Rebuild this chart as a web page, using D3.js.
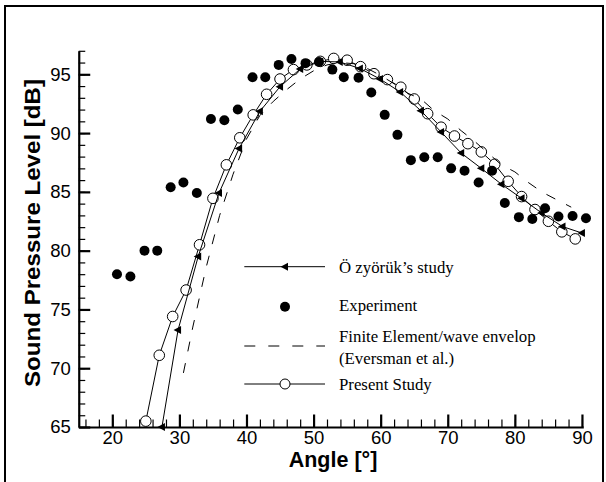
<!DOCTYPE html>
<html>
<head>
<meta charset="utf-8">
<script src="https://cdn.jsdelivr.net/npm/d3@7"></script>
<style>
  html, body { margin: 0; padding: 0; background: #fff; }
  svg { display: block; }
</style>
</head>
<body>
<svg id="chart" width="606" height="482"></svg>
<script>
// ---- data ----
const xTickLabels = [20, 30, 40, 50, 60, 70, 80, 90];
const yTickLabels = [65, 70, 75, 80, 85, 90, 95];

const expAngle = [20.7, 22.7, 24.8, 26.7, 28.7, 30.6, 32.6, 34.7, 36.7, 38.7, 40.9, 42.8, 44.8, 46.7, 48.8, 50.8, 52.8, 54.5, 56.7, 58.6, 60.6, 62.5, 64.5, 66.5, 68.5, 70.5, 72.5, 74.6, 76.6, 78.5, 80.6, 82.6, 84.5, 86.5, 88.6, 90.6];
const expDB    = [78.0, 77.8, 80.0, 80.0, 85.4, 85.8, 84.9, 91.2, 91.1, 92.0, 94.75, 94.75, 95.8, 96.3, 95.95, 96.05, 95.4, 94.75, 94.7, 93.45, 91.55, 89.85, 87.7, 87.95, 87.95, 87.0, 86.8, 85.8, 86.8, 84.05, 82.85, 82.7, 83.6, 82.9, 82.95, 82.75];

const presentAngle = [25, 27, 29, 31, 33, 35, 37, 39, 41, 43, 45, 47, 49, 51, 53, 55, 57, 59, 61, 63, 65, 67, 69, 71, 73, 75, 77, 79, 81, 83, 85, 87, 89];
const presentDB    = [65.5, 71.1, 74.4, 76.65, 80.5, 84.45, 87.3, 89.6, 91.55, 93.3, 94.6, 95.4, 95.8, 96.1, 96.35, 96.2, 95.65, 95.05, 94.55, 93.9, 92.9, 91.65, 90.5, 89.75, 89.1, 88.4, 87.35, 85.9, 84.6, 83.5, 82.5, 81.6, 81.0];

const ozAngle = [27.4, 29.8, 32.8, 35.9, 38.9, 42.0, 45.0, 48.0, 51.0, 53.9, 56.9, 59.9, 62.9, 66.0, 69.0, 72.0, 75.0, 78.0, 81.0, 84.0, 87.1, 90.0];
const ozDB    = [65.0, 73.25, 79.5, 84.9, 88.7, 91.85, 93.95, 95.45, 96.1, 96.05, 95.5, 94.6, 93.5, 91.9, 90.1, 88.3, 87.0, 85.65, 84.45, 83.2, 82.05, 81.5];

const feAngle = [30.6, 32, 34, 36, 38, 40, 42, 44, 46, 48, 50, 52, 54, 56, 58, 60, 62, 64, 66, 68, 70, 72, 74, 76, 78, 80, 82, 84, 86, 88.4];
const feDB    = [69.6, 73.5, 78.6, 83.0, 86.5, 89.5, 91.5, 92.7, 93.7, 94.6, 95.3, 95.8, 96.0, 95.9, 95.5, 94.9, 94.2, 93.4, 92.9, 91.9, 91.2, 90.2, 89.3, 88.3, 87.3, 86.7, 85.8, 85.0, 84.4, 83.7];

const legendLabels = ["Ö zyörük’s study", "Experiment", "Finite Element/wave envelop", "(Eversman et al.)", "Present Study"];
const xTitle = "Angle [°]";
const yTitle = "Sound Pressure Level [dB]";

// ---- drawing ----
const svg = d3.select("#chart");
const x = d3.scaleLinear().domain([15, 90.2]).range([78.75, 583.3]);
const y = d3.scaleLinear().domain([65, 97]).range([427, 50.8]);

// outer frame
svg.append("rect").attr("x", 5).attr("y", 6).attr("width", 598).attr("height", 480)
  .attr("fill", "none").attr("stroke", "#000").attr("stroke-width", 2);

const sans = "'Liberation Sans', Arial, Helvetica, sans-serif";
const serif = "'Liberation Serif', 'Times New Roman', serif";

// minor ticks
const gxm = svg.append("g").attr("transform", `translate(0,${y(65)})`)
  .call(d3.axisBottom(x).tickValues(d3.range(16, 91, 2)).tickSizeInner(-7.5).tickSizeOuter(0).tickFormat(""));
gxm.select(".domain").remove();
gxm.selectAll("line").attr("stroke-width", 1.2);
const gym = svg.append("g").attr("transform", `translate(${x(15)},0)`)
  .call(d3.axisLeft(y).tickValues(d3.range(65, 97.5, 1)).tickSizeInner(-6.5).tickSizeOuter(0).tickFormat(""));
gym.select(".domain").remove();
gym.selectAll("line").attr("stroke-width", 1.2);

// major ticks + labels
const gx = svg.append("g").attr("transform", `translate(0,${y(65)})`)
  .call(d3.axisBottom(x).tickValues(xTickLabels).tickSizeInner(-12.5).tickSizeOuter(0).tickPadding(4));
gx.select(".domain").attr("stroke-width", 2.2);
gx.selectAll(".tick line").attr("stroke-width", 2.2);
gx.selectAll("text").attr("font-family", sans).attr("font-size", 18.5).attr("fill", "#000");

const gy = svg.append("g").attr("transform", `translate(${x(15)},0)`)
  .call(d3.axisLeft(y).tickValues(yTickLabels).tickSizeInner(-11.5).tickSizeOuter(0).tickPadding(8));
gy.select(".domain").attr("stroke-width", 2.2);
gy.selectAll(".tick line").attr("stroke-width", 2.2);
gy.selectAll("text").attr("font-family", sans).attr("font-size", 18.5).attr("fill", "#000");

// axis titles
svg.append("text").attr("x", 333).attr("y", 467).attr("text-anchor", "middle")
  .attr("font-family", sans).attr("font-weight", "bold").attr("font-size", 21.5).text(xTitle);
svg.append("text").attr("transform", "translate(40,233) rotate(-90)").attr("text-anchor", "middle")
  .attr("font-family", sans).attr("font-weight", "bold").attr("font-size", 21.5)
  .attr("textLength", 308).attr("lengthAdjust", "spacingAndGlyphs").text(yTitle);

const line = d3.line().x(d => x(d[0])).y(d => y(d[1]));
const zip = (a, b) => a.map((v, i) => [v, b[i]]);
const triPath = "M-4.5,0L3,-4L3,4Z";

// Present study
const presentData = zip(presentAngle, presentDB);
svg.append("path").datum(presentData).attr("d", line).attr("fill", "none").attr("stroke", "#000").attr("stroke-width", 1);
svg.append("g").selectAll("circle").data(presentData).join("circle")
  .attr("cx", d => x(d[0])).attr("cy", d => y(d[1])).attr("r", 5.3)
  .attr("fill", "#fff").attr("stroke", "#000").attr("stroke-width", 1);

// Özyörük
const ozData = zip(ozAngle, ozDB);
svg.append("path").datum(ozData).attr("d", line).attr("fill", "none").attr("stroke", "#000").attr("stroke-width", 1);
svg.append("g").selectAll("path").data(ozData).join("path")
  .attr("transform", d => `translate(${x(d[0])},${y(d[1])})`).attr("d", triPath).attr("fill", "#000");

// Finite element (dashed)
const feData = zip(feAngle, feDB);
svg.append("path").datum(feData).attr("d", line).attr("fill", "none").attr("stroke", "#000")
  .attr("stroke-width", 1).attr("stroke-dasharray", "10,12");

// Experiment
const expData = zip(expAngle, expDB);
svg.append("g").selectAll("circle").data(expData).join("circle")
  .attr("cx", d => x(d[0])).attr("cy", d => y(d[1])).attr("r", 5).attr("fill", "#000");

// ---- legend ----
const lg = svg.append("g");
const lx0 = 244.3, lx1 = 325, lmx = 285, ltx = 339;
lg.append("line").attr("x1", lx0).attr("x2", lx1).attr("y1", 266.7).attr("y2", 266.7).attr("stroke", "#000");
lg.append("path").attr("transform", `translate(${lmx},266.7)`).attr("d", triPath).attr("fill", "#000");
lg.append("circle").attr("cx", lmx).attr("cy", 306.7).attr("r", 5).attr("fill", "#000");
lg.append("line").attr("x1", lx0).attr("x2", lx1).attr("y1", 346).attr("y2", 346).attr("stroke", "#000")
  .attr("stroke-dasharray", "11,13");
lg.append("line").attr("x1", lx0).attr("x2", lx1).attr("y1", 384).attr("y2", 384).attr("stroke", "#000");
lg.append("circle").attr("cx", lmx).attr("cy", 384).attr("r", 5).attr("fill", "#fff").attr("stroke", "#000");

const legY = [273, 311, 341.5, 363.5, 390];
lg.selectAll("text.leg").data(legendLabels).join("text").attr("class", "leg")
  .attr("x", ltx).attr("y", (d, i) => legY[i])
  .attr("font-family", serif).attr("font-size", 16.8).attr("fill", "#000").text(d => d);
</script>
</body>
</html>
